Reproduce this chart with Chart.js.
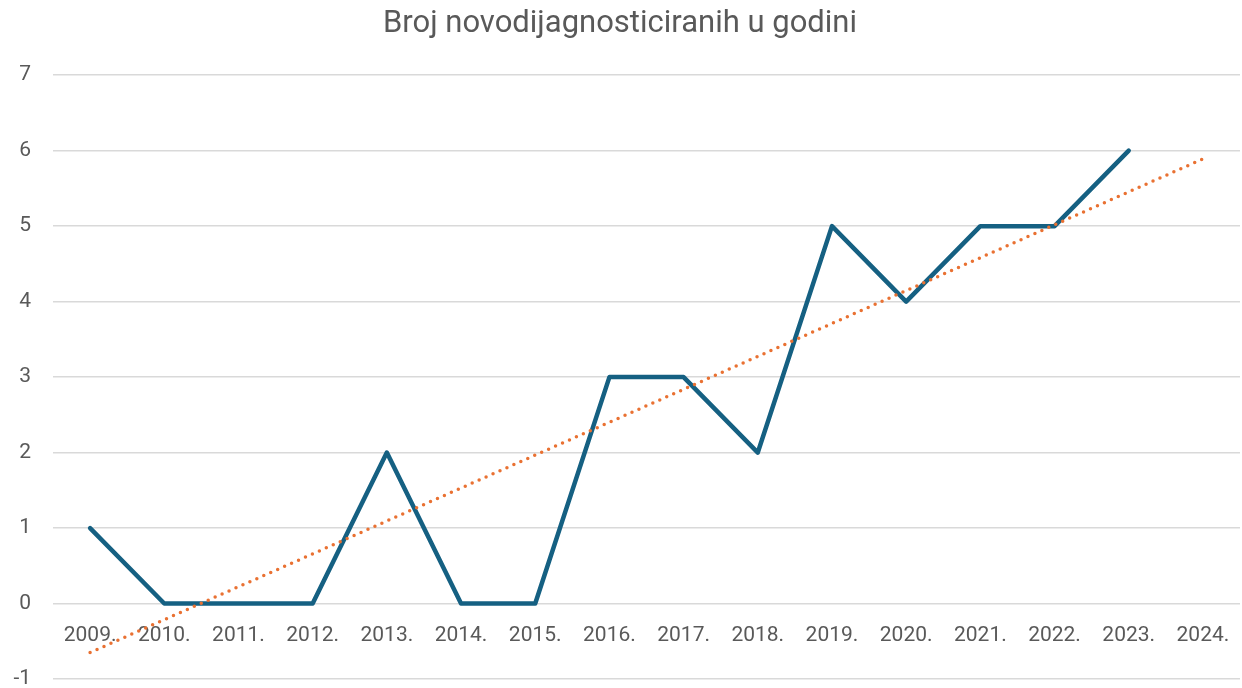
<!DOCTYPE html>
<html>
<head>
<meta charset="utf-8">
<script src="https://cdn.jsdelivr.net/npm/chart.js@4/dist/chart.umd.min.js"></script>
<style>
  html, body { margin: 0; padding: 0; background: #ffffff; }
  #wrap { width: 1242px; height: 688px; }
</style>
</head>
<body>
<div id="wrap"><canvas id="c" width="1242" height="688"></canvas></div>
<script>
const titleText = 'Broj novodijagnosticiranih u godini';
const years = ['2009.', '2010.', '2011.', '2012.', '2013.', '2014.', '2015.', '2016.',
               '2017.', '2018.', '2019.', '2020.', '2021.', '2022.', '2023.', '2024.'];
const cases = [1, 0, 0, 0, 2, 0, 0, 3, 3, 2, 5, 4, 5, 5, 6, null];
const trendYears = ['2009.', '2024.'];
const trendValues = [-0.65, 5.89];
const yTicks = [-1, 0, 1, 2, 3, 4, 5, 6, 7];

const grey = '#595959';
const fontFamily = 'Roboto, "Liberation Sans", sans-serif';

new Chart(document.getElementById('c'), {
  type: 'line',
  data: {
    labels: years,
    datasets: [
      {
        label: 'Broj',
        data: cases,
        borderColor: '#156082',
        backgroundColor: '#156082',
        borderWidth: 4.5,
        borderCapStyle: 'round',
        borderJoinStyle: 'round',
        pointRadius: 0,
        tension: 0,
        order: 1
      },
      {
        label: 'Trend',
        data: trendYears.map((y, i) => ({ x: y, y: trendValues[i] })),
        borderColor: '#E97132',
        borderWidth: 3.5,
        borderDash: [0, 7.6],
        borderCapStyle: 'round',
        pointRadius: 0,
        tension: 0,
        order: 0
      }
    ]
  },
  options: {
    responsive: false,
    animation: false,
    devicePixelRatio: 1,
    layout: { padding: { left: 0, right: 2, top: 0, bottom: 9 } },
    plugins: {
      legend: { display: false },
      tooltip: { enabled: false },
      title: {
        display: true,
        text: titleText,
        color: grey,
        font: { family: fontFamily, size: 31, weight: 'normal' },
        padding: { top: 6, bottom: 32 }
      }
    },
    scales: {
      x: {
        type: 'category',
        position: { y: 0 },
        offset: true,
        grid: { display: false, drawTicks: false },
        border: { display: false },
        ticks: {
          color: grey,
          font: { family: fontFamily, size: 21 },
          padding: 20,
          maxRotation: 0,
          autoSkip: false
        },
        afterFit: (s) => { s.height = 0; s.paddingLeft = 0; s.paddingRight = 0; s.paddingTop = 0; s.paddingBottom = 0; }
      },
      y: {
        min: -1,
        max: 7,
        afterBuildTicks: (s) => { s.ticks = yTicks.map(v => ({ value: v })); },
        grid: { color: '#d9d9d9', lineWidth: 1.5, drawTicks: false },
        border: { display: false },
        ticks: {
          color: grey,
          font: { family: fontFamily, size: 21 },
          padding: 22
        },
        afterFit: (s) => { s.width = 53; s.paddingTop = 0; s.paddingBottom = 0; }
      }
    }
  }
});
</script>
</body>
</html>
